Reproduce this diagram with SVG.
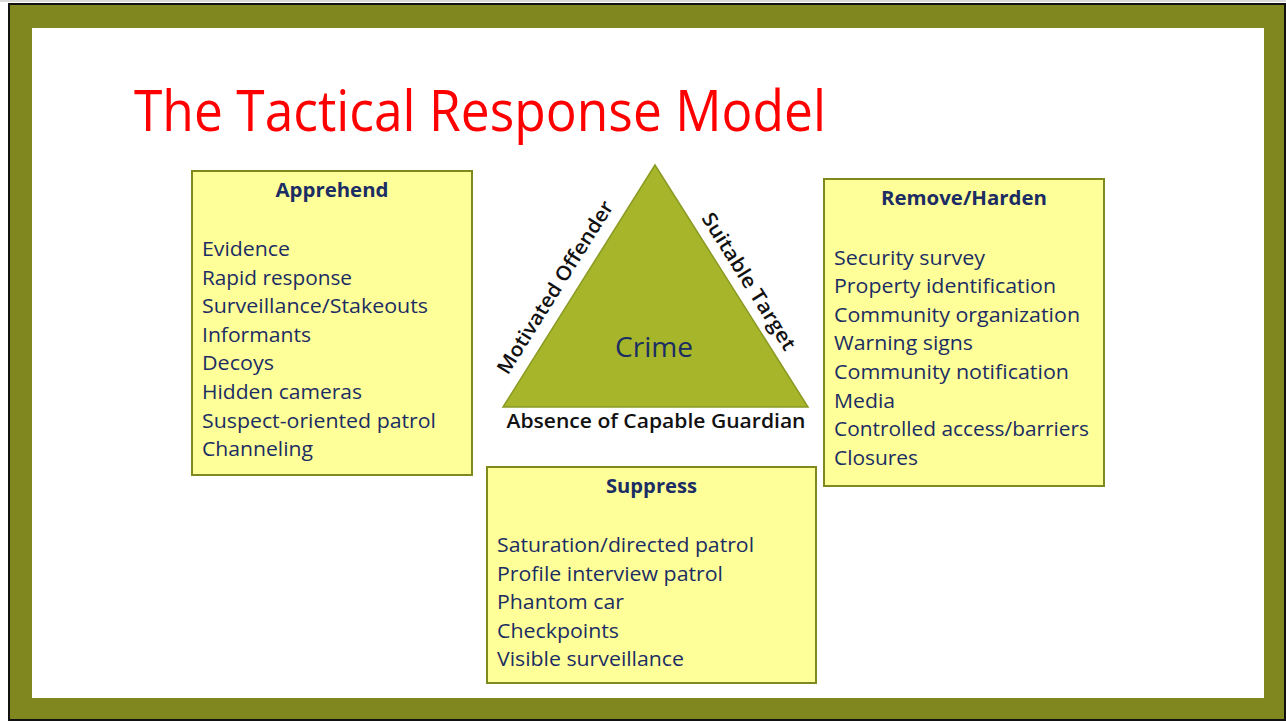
<svg xmlns="http://www.w3.org/2000/svg" width="1286" height="721" viewBox="0 0 1286 721">
<style>
.item{font-family:"Open Sans","Noto Sans","Liberation Sans",sans-serif;font-size:20.5px;fill:#1b2d63}
.hdr{font-family:"Open Sans","Noto Sans","Liberation Sans",sans-serif;font-size:20px;font-weight:bold;fill:#1b2d63}
.lbl{font-family:"Open Sans","Noto Sans","Liberation Sans",sans-serif;font-size:20px;font-weight:600;fill:#111}
.box{fill:#ffff99;stroke:#7f8a1e;stroke-width:2}
</style>
<rect x="0" y="0" width="1286" height="2" fill="#d9d9d9"/>
<rect x="8" y="3" width="1278" height="718" fill="#111"/>
<rect x="10" y="5" width="1274" height="714" fill="#80871f"/>
<rect x="32" y="28" width="1232" height="670" fill="#ffffff"/>
<text x="134" y="131" font-family="'Open Sans','Noto Sans','Liberation Sans',sans-serif" font-size="57" fill="#ff0000" textLength="692" lengthAdjust="spacingAndGlyphs">The Tactical Response Model</text>
<g id="triangle">
<polygon points="655,165 503,407 808,407" fill="#a6b52a" stroke="#8b9a22" stroke-width="1.5"/>
<text x="654" y="357" text-anchor="middle" font-family="'Open Sans','Noto Sans','Liberation Sans',sans-serif" font-size="28" fill="#1b2d63" textLength="78" lengthAdjust="spacingAndGlyphs">Crime</text>
<text class="lbl" transform="translate(561,291) rotate(-57.9)" text-anchor="middle" textLength="200" lengthAdjust="spacingAndGlyphs">Motivated Offender</text>
<text class="lbl" transform="translate(743,285) rotate(57.9)" text-anchor="middle" textLength="158" lengthAdjust="spacingAndGlyphs">Suitable Target</text>
<text class="lbl" x="656" y="428" text-anchor="middle" textLength="299" lengthAdjust="spacingAndGlyphs">Absence of Capable Guardian</text>
</g>
<g id="apprehend">
<rect class="box" x="192" y="171" width="280" height="304"/>
<text class="hdr" x="332" y="197" text-anchor="middle" textLength="113" lengthAdjust="spacingAndGlyphs">Apprehend</text>
<text class="item" x="202" y="256" textLength="88" lengthAdjust="spacingAndGlyphs">Evidence</text>
<text class="item" x="202" y="284.6" textLength="150" lengthAdjust="spacingAndGlyphs">Rapid response</text>
<text class="item" x="202" y="313.2" textLength="226" lengthAdjust="spacingAndGlyphs">Surveillance/Stakeouts</text>
<text class="item" x="202" y="341.8" textLength="109" lengthAdjust="spacingAndGlyphs">Informants</text>
<text class="item" x="202" y="370.4" textLength="72" lengthAdjust="spacingAndGlyphs">Decoys</text>
<text class="item" x="202" y="399" textLength="160" lengthAdjust="spacingAndGlyphs">Hidden cameras</text>
<text class="item" x="202" y="427.6" textLength="234" lengthAdjust="spacingAndGlyphs">Suspect-oriented patrol</text>
<text class="item" x="202" y="456.2" textLength="111" lengthAdjust="spacingAndGlyphs">Channeling</text>
</g>
<g id="remove-harden">
<rect class="box" x="824" y="179" width="280" height="307"/>
<text class="hdr" x="964" y="205" text-anchor="middle" textLength="166" lengthAdjust="spacingAndGlyphs">Remove/Harden</text>
<text class="item" x="834" y="264.5" textLength="151" lengthAdjust="spacingAndGlyphs">Security survey</text>
<text class="item" x="834" y="293.1" textLength="222" lengthAdjust="spacingAndGlyphs">Property identification</text>
<text class="item" x="834" y="321.7" textLength="246" lengthAdjust="spacingAndGlyphs">Community organization</text>
<text class="item" x="834" y="350.3" textLength="139" lengthAdjust="spacingAndGlyphs">Warning signs</text>
<text class="item" x="834" y="378.9" textLength="235" lengthAdjust="spacingAndGlyphs">Community notification</text>
<text class="item" x="834" y="407.5" textLength="61" lengthAdjust="spacingAndGlyphs">Media</text>
<text class="item" x="834" y="436.1" textLength="255" lengthAdjust="spacingAndGlyphs">Controlled access/barriers</text>
<text class="item" x="834" y="464.7" textLength="84" lengthAdjust="spacingAndGlyphs">Closures</text>
</g>
<g id="suppress">
<rect class="box" x="487" y="467" width="329" height="216"/>
<text class="hdr" x="651.5" y="493" text-anchor="middle" textLength="91" lengthAdjust="spacingAndGlyphs">Suppress</text>
<text class="item" x="497" y="552" textLength="257" lengthAdjust="spacingAndGlyphs">Saturation/directed patrol</text>
<text class="item" x="497" y="580.6" textLength="226" lengthAdjust="spacingAndGlyphs">Profile interview patrol</text>
<text class="item" x="497" y="609.2" textLength="127" lengthAdjust="spacingAndGlyphs">Phantom car</text>
<text class="item" x="497" y="637.8" textLength="122" lengthAdjust="spacingAndGlyphs">Checkpoints</text>
<text class="item" x="497" y="666.4" textLength="187" lengthAdjust="spacingAndGlyphs">Visible surveillance</text>
</g>
<g id="connectors"></g>
</svg>
